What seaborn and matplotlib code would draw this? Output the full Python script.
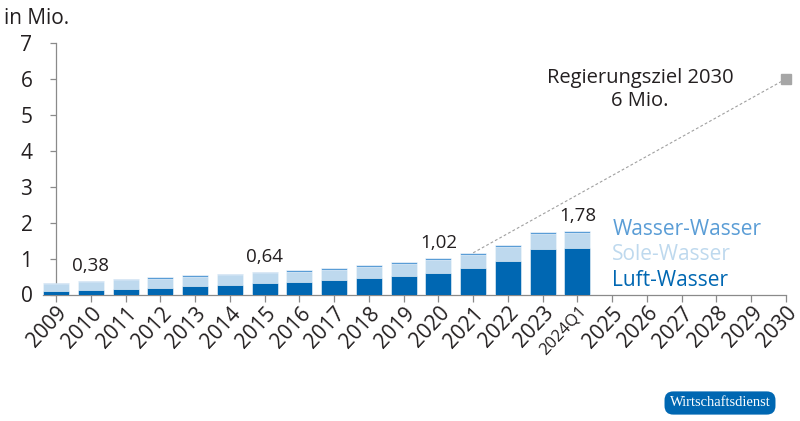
import numpy as np
import pandas as pd
import matplotlib
matplotlib.use("Agg")
import matplotlib.pyplot as plt
import seaborn as sns

# ---- data ----
categories = ["2009", "2010", "2011", "2012", "2013", "2014", "2015", "2016",
              "2017", "2018", "2019", "2020", "2021", "2022", "2023", "2024Q1",
              "2025", "2026", "2027", "2028", "2029", "2030"]
bar_years = categories[:16]
luft_wasser = [0.10, 0.12, 0.16, 0.19, 0.23, 0.27, 0.31, 0.35, 0.40, 0.46, 0.52, 0.61, 0.73, 0.93, 1.26, 1.29]
sole_wasser = [0.195, 0.22, 0.23, 0.245, 0.265, 0.26, 0.28, 0.29, 0.295, 0.315, 0.32, 0.35, 0.37, 0.385, 0.415, 0.42]
wasser_wasser = [0.035, 0.04, 0.04, 0.045, 0.045, 0.05, 0.05, 0.05, 0.055, 0.055, 0.06, 0.06, 0.06, 0.065, 0.065, 0.07]
value_labels = {"2010": "0,38", "2015": "0,64", "2020": "1,02", "2024Q1": "1,78"}
goal_year = "2030"
goal_value = 6
line_start = "2021"

c_luft = "#0067b2"
c_sole = "#bed9ee"
c_wasser = "#5a9dd6"
c_text = "#231f20"
c_axis = "#8a8a8a"

plt.rcParams["font.family"] = ["Open Sans", "DejaVu Sans"]

df = pd.DataFrame({
    "year": bar_years,
    "luft": luft_wasser,
    "sole": sole_wasser,
    "wasser": wasser_wasser,
})
df["cum_sole"] = df["luft"] + df["sole"]
df["cum_total"] = df["cum_sole"] + df["wasser"]

fig = plt.figure(figsize=(8, 4.21), dpi=100)
ax = fig.add_axes([43 / 800, 1 - 294.5 / 421, (786 - 43) / 800, (294.5 - 43) / 421])

common = dict(x="year", order=categories, width=0.75, ax=ax, zorder=3,
              edgecolor="white", linewidth=0.4)
sns.barplot(data=df, y="cum_total", color=c_wasser, saturation=1, **common)
sns.barplot(data=df, y="cum_sole", color=c_sole, saturation=1, **common)
sns.barplot(data=df, y="luft", color=c_luft, saturation=1, **common)

# target line
i0 = categories.index(line_start)
i1 = categories.index(goal_year)
y0 = float(df.loc[df["year"] == line_start, "cum_total"].iloc[0])
ax.plot([i0, i1], [y0, goal_value], color="#a0a0a0", lw=0.8, ls=(0, (2.5, 2)), zorder=4)
ax.plot([i1], [goal_value], marker="s", ms=7, color="#a6a6a6", zorder=5, clip_on=False)

ax.text(i1 - 4.2, 5.7, "Regierungsziel 2030\n6 Mio.", ha="center", va="center",
        fontsize=14.5, color=c_text, linespacing=1.2)

# value labels
for yr, txt in value_labels.items():
    i = categories.index(yr)
    v = float(df.loc[df["year"] == yr, "cum_total"].iloc[0])
    ax.text(i, v + 0.15, txt, ha="center", va="bottom", fontsize=13.5, color=c_text)

# legend as text
ax.text(16.0, 1.82, "Wasser-Wasser", color=c_wasser, fontsize=15, ha="left", va="center")
ax.text(16.0, 1.1, "Sole-Wasser", color=c_sole, fontsize=15, ha="left", va="center")
ax.text(16.0, 0.38, "Luft-Wasser", color=c_luft, fontsize=15, ha="left", va="center")

# axes styling
ax.set_xlim(-0.375, len(categories) - 1)
ax.set_ylim(0, 7)
ax.set_yticks(range(0, 8))
ax.set_xlabel("")
ax.set_ylabel("")
for s in ["top", "right"]:
    ax.spines[s].set_visible(False)
ax.spines["left"].set_position(("data", 0))
ax.spines["left"].set_color(c_axis)
ax.spines["bottom"].set_color(c_axis)
ax.spines["left"].set_linewidth(0.9)
ax.spines["bottom"].set_linewidth(0.9)
ax.spines["left"].set_zorder(1)
ax.tick_params(axis="y", colors=c_axis, labelcolor=c_text, labelsize=15, length=4, width=0.9, pad=13)
ax.tick_params(axis="x", colors=c_axis, labelcolor=c_text, labelsize=15, length=5, width=0.9, pad=1)
ax.set_xticks(range(len(categories)))
ax.set_xticklabels(categories)
for lab in ax.get_xticklabels():
    lab.set_rotation(47)
    lab.set_ha("right")
    lab.set_va("top")
    lab.set_rotation_mode("anchor")
    if lab.get_text() == "2024Q1":
        lab.set_fontsize(12)

fig.text(4 / 800, 1 - 18 / 421, "in Mio.", fontsize=15, color=c_text, ha="left", va="center")

fig.text(720 / 800, 1 - 403 / 421, "Wirtschaftsdienst", fontsize=10.5, color="white",
         ha="center", va="center", family=["Liberation Serif", "DejaVu Serif"],
         bbox=dict(boxstyle="round,pad=0.35,rounding_size=0.6", fc="#0067b2", ec="none"))

fig.savefig("out.png", dpi=100)
